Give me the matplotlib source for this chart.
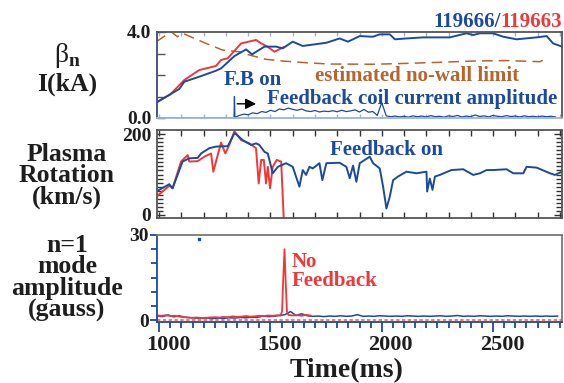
import numpy as np
import matplotlib
matplotlib.use("Agg")
import matplotlib.pyplot as plt
from matplotlib.transforms import ScaledTranslation

# ---------------- data ----------------
# normalized beta, shot 119666 (feedback)
beta_fb_t = [987, 1090, 1113, 1180, 1255, 1278, 1338, 1390, 1417, 1473, 1525, 1555, 1600,
             1645, 1751, 1811, 1848, 1901, 1960, 1991, 2036, 2059, 2111, 2186, 2306, 2381,
             2411, 2441, 2500, 2546, 2606, 2696, 2741, 2770, 2810]
beta_fb = [0.72, 1.35, 1.69, 1.92, 2.20, 2.31, 2.88, 3.19, 2.96, 3.32, 3.32, 3.24, 3.55,
           3.35, 3.50, 3.70, 3.55, 3.81, 3.78, 3.89, 3.89, 3.66, 3.70, 3.75, 3.75, 3.94,
           3.86, 3.94, 3.94, 3.78, 3.66, 3.75, 3.81, 3.47, 3.32]
# normalized beta, shot 119663 (no feedback)
beta_nofb_t = [987, 1050, 1113, 1180, 1255, 1278, 1308, 1368, 1435, 1458, 1486, 1518, 1548, 1560]
beta_nofb = [0.72, 1.10, 1.77, 2.23, 2.42, 2.70, 2.78, 3.47, 3.63, 3.47, 3.32, 3.08, 3.24, 3.30]
# estimated no-wall beta limit
nowall_t = [987, 1053, 1082, 1105, 1210, 1285, 1360, 1405, 1480, 1555, 1661, 1766, 1961,
            2111, 2261, 2411, 2561, 2711, 2741]
nowall = [3.55, 4.01, 3.78, 3.94, 3.47, 3.16, 3.08, 2.93, 2.73, 2.65, 2.57, 2.51, 2.50,
          2.54, 2.59, 2.65, 2.67, 2.62, 2.78]
# feedback coil current amplitude (plotted on the beta scale)
coil_pre_t = [987, 1336, 1338, 1340]
coil_pre = [0.0, 0.0, 1.0, 0.03]
coil_start, coil_step = 1360, 20
coil = [0.12, 0.18, 0.15, 0.24, 0.20, 0.30, 0.26, 0.36, 0.30, 0.42, 0.38, 0.46, 0.40,
        0.36, 0.42, 0.33, 0.30, 0.35, 0.28, 0.32, 0.30, 0.34, 0.29, 0.36, 0.30, 0.33,
        0.38, 0.28, 0.40, 0.27, 0.30, 0.12, 0.72, 0.10, 0.06, 0.09, 0.05, 0.08, 0.04,
        0.10, 0.06, 0.09, 0.05, 0.11, 0.06, 0.08, 0.04, 0.10, 0.07, 0.12, 0.05, 0.09,
        0.06, 0.14, 0.07, 0.10, 0.05, 0.12, 0.08, 0.06, 0.11, 0.07, 0.09, 0.05, 0.10,
        0.06, 0.08, 0.05, 0.09, 0.06, 0.08, 0.05]

# plasma rotation (km/s)
rot_fb_t = [987, 1045, 1060, 1105, 1135, 1173, 1188, 1225, 1255, 1308, 1338, 1345, 1375,
            1413, 1435, 1450, 1473, 1488, 1510, 1533, 1570, 1600, 1630, 1645, 1660, 1675,
            1690, 1720, 1733, 1751, 1811, 1841, 1856, 1871, 1886, 1901, 1946, 1961, 1991,
            2006, 2021, 2036, 2051, 2073, 2111, 2156, 2201, 2204, 2216, 2228, 2239, 2261,
            2313, 2366, 2411, 2441, 2471, 2501, 2561, 2591, 2636, 2651, 2696, 2756, 2778, 2810]
rot_fb = [58, 76, 66, 132, 140, 141, 152, 165, 169, 170, 202, 200, 185,
          173, 177, 173, 156, 152, 103, 119, 128, 119, 70, 111, 99, 119,
          115, 128, 86, 128, 129, 119, 91, 122, 82, 128, 144, 128, 115,
          70, 16, 45, 86, 95, 107, 103, 107, 58, 90, 62, 95, 99,
          111, 113, 99, 103, 111, 111, 113, 103, 103, 119, 117, 103, 99, 107]
rot_nofb_t = [987, 1045, 1060, 1098, 1128, 1135, 1173, 1203, 1233, 1243, 1278, 1297, 1315,
              1338, 1368, 1405, 1435, 1447, 1458, 1470, 1480, 1488, 1498, 1510, 1528, 1548, 1560]
rot_nofb = [45, 72, 66, 132, 148, 132, 133, 144, 152, 107, 179, 152, 173,
            207, 185, 177, 165, 78, 136, 136, 78, 119, 66, 119, 136, 132, -15]

# n=1 mode amplitude (gauss)
mode_fb_start, mode_fb_step = 990, 25
mode_fb = [1.4, 1.2, 1.8, 1.1, 1.5, 1.0, 0.8, 0.7, 0.6, 0.7, 0.5, 0.7, 0.6, 0.8, 0.7,
           0.9, 0.8, 1.0, 0.9, 1.4, 1.2, 1.3, 1.6, 1.9, 3.0, 1.6, 2.2, 1.5, 1.3, 1.4,
           1.2, 1.4, 1.3, 1.5, 1.3, 1.4, 1.9, 1.3, 1.4, 1.3, 1.5, 1.4, 1.3, 1.4, 1.3,
           1.5, 1.4, 1.3, 1.4, 1.3, 1.4, 1.5, 1.3, 1.4, 1.6, 1.3, 1.4, 1.3, 1.5, 1.4,
           1.3, 1.4, 1.3, 1.5, 1.4, 1.3, 1.4, 1.3, 1.4, 1.3, 1.4, 1.3, 1.4]
mode_nofb_t = [990, 1010, 1030, 1050, 1070, 1090, 1110, 1130, 1150, 1170, 1190, 1210, 1230,
               1250, 1270, 1290, 1310, 1330, 1350, 1370, 1390, 1410, 1430, 1450, 1470, 1490,
               1510, 1530, 1545, 1552, 1557, 1563, 1568, 1574, 1580, 1600, 1620, 1640, 1660, 1680]
mode_nofb = [1.6, 1.5, 1.7, 1.4, 1.5, 1.2, 1.0, 0.9, 0.8, 0.9, 0.7, 0.8, 0.9,
             1.0, 0.9, 1.1, 1.0, 1.3, 1.1, 1.2, 1.4, 1.2, 1.3, 1.5, 1.4, 1.6,
             1.5, 1.7, 1.6, 3.0, 14.0, 25.0, 14.0, 3.0, 1.8, 1.6, 1.7, 1.5, 1.8, 1.6]
stray_t, stray_v = [1180], [28.5]

xticks = [1000, 1500, 2000, 2500]

# ---------------- style ----------------
BLUE = "#1c4a9c"
RED = "#f03838"
BROWN = "#b5652e"
DARK = "#1e1e1e"
FONT = "Liberation Serif"
plt.rcParams["font.family"] = [FONT, "DejaVu Serif"]
plt.rcParams["font.weight"] = "bold"

W, H = 564, 383
fig = plt.figure(figsize=(W / 100, H / 100), dpi=100)


def box(top, bottom, left=157, right=562):
    return [left / W, 1 - bottom / H, (right - left) / W, (bottom - top) / H]


XLIM = (990, 2810)
ax1 = fig.add_axes(box(32, 118))
ax2 = fig.add_axes(box(130, 218))
ax3 = fig.add_axes(box(235, 322))

for ax in (ax1, ax2, ax3):
    ax.set_xlim(*XLIM)
    for s in ax.spines.values():
        s.set_linewidth(1.3)
        s.set_color("#555555")

# ---- panel 1: beta_n and coil current ----
ax1.plot(nowall_t, nowall, color=BROWN, lw=1.1, dashes=(7, 4))
ax1.plot(beta_nofb_t, beta_nofb, color=RED, lw=1.4)
ax1.plot(beta_fb_t, beta_fb, color=BLUE, lw=1.4)
coil_t = list(coil_pre_t) + list(coil_start + coil_step * np.arange(len(coil)))
ax1.plot(coil_t, list(coil_pre) + coil, color=BLUE, lw=0.9)
ax1.set_ylim(0, 4)
ax1.set_yticks([0, 4])
ax1.set_yticklabels(["0.0", "4.0"])
ax1.set_yticks([1, 2, 3], minor=True)
ax1.tick_params(axis="y", which="both", direction="in", length=6, width=1, colors="#555555",
                labelcolor=DARK, labelsize=14, pad=4)
ax1.set_xticks(np.arange(1000, 2801, 100))
ax1.tick_params(axis="x", which="both", direction="in", length=3, width=1, top=True,
                colors="#9db3de", labelbottom=False)
ax1.spines["bottom"].set_color("#9db3de")
ax1.spines["left"].set_color("#3a4a7a")
ax1.annotate("", xy=(1448, 0.66), xytext=(1338, 0.66),
             arrowprops=dict(arrowstyle="-|>", color="black", lw=1.0, mutation_scale=16))
ax1.text(1418, 1.77, "F.B on", color=BLUE, fontsize=15, ha="center", va="center")
ax1.text(1486, 0.88, "Feedback coil current amplitude", color=BLUE, fontsize=15,
         ha="left", va="center")
ax1.text(1698, 1.95, "estimated no-wall limit", color=BROWN, fontsize=15,
         ha="left", va="center")
ax1.text(1.0, 1.0, "119663", transform=ax1.transAxes, color=RED, fontsize=15,
         ha="right", va="bottom")
t_blue = ax1.text(0.0, 1.0, "119666/", transform=ax1.transAxes, color=BLUE, fontsize=15,
                  ha="right", va="bottom")

# ---- panel 2: rotation ----
ax2.plot(rot_nofb_t, rot_nofb, color=RED, lw=1.4)
ax2.plot(rot_fb_t, rot_fb, color=BLUE, lw=1.4)
ax2.set_ylim(-7.5, 210)
ax2.set_yticks([0, 200])
ax2.set_yticks(np.arange(10, 200, 10), minor=True)
ax2.tick_params(axis="y", which="major", direction="in", length=6, width=1, right=True,
                colors="#333333", labelcolor=DARK, labelsize=14, pad=4)
ax2.tick_params(axis="y", which="minor", direction="in", length=4, width=1, right=True,
                colors="#333333")
ax2.set_xticks(np.arange(1000, 2801, 100))
ax2.tick_params(axis="x", direction="in", length=4, width=1, top=True, colors="#333333",
                labelbottom=False)
ax2.text(1766, 160, "Feedback on", color=BLUE, fontsize=15, ha="left", va="center")

# ---- panel 3: n=1 mode amplitude ----
ax3.axhline(0, color=RED, lw=1.2, dashes=(2, 1.5), alpha=0.8)
mode_fb_t = mode_fb_start + mode_fb_step * np.arange(len(mode_fb))
ax3.plot(mode_fb_t, mode_fb, color=BLUE, lw=1.1)
ax3.plot(mode_nofb_t, mode_nofb, color=RED, lw=1.3)
ax3.plot(stray_t, stray_v, ls="none", marker="s", ms=1.5, color=BLUE)
ax3.set_ylim(-0.7, 30)
ax3.set_yticks([0, 30])
ax3.set_yticks([5, 10, 15, 20, 25], minor=True)
ax3.tick_params(axis="y", which="major", direction="out", length=5, width=1.3, colors=BLUE,
                labelcolor=DARK, labelsize=14, pad=1)
ax3.tick_params(axis="y", which="minor", direction="out", length=4, width=1.3, colors=BLUE)
ax3.set_xticks(xticks)
ax3.set_xticklabels([str(v) for v in xticks])
ax3.set_xticks(np.arange(1050, 2801, 50), minor=True)
ax3.tick_params(axis="x", which="major", direction="out", length=7, width=1.3, colors=BLUE,
                labelcolor=DARK, labelsize=16, pad=2)
ax3.tick_params(axis="x", which="minor", direction="out", length=4, width=1.3, colors=BLUE)
for lab in ax3.get_xticklabels():
    lab.set_transform(lab.get_transform() + ScaledTranslation(0.09, 0, fig.dpi_scale_trans))
ax3.spines["left"].set_color(BLUE)
ax3.spines["bottom"].set_color(BLUE)
ax3.spines["top"].set_color("#777777")
ax3.spines["right"].set_color("#777777")
ax3.text(1595, 17, "No\nFeedback", color=RED, fontsize=15, ha="left", va="center",
         linespacing=0.95)

# ---- figure-level labels ----
fig.text(347 / W, 1 - 371 / H, "Time(ms)", fontsize=20, ha="center", va="center", color=DARK)
fig.text(61 / W, 1 - 56 / H, "β", fontsize=20, fontweight="normal", ha="center",
         va="center", color=DARK)
fig.text(73.5 / W, 1 - 61 / H, "n", fontsize=14, ha="center", va="center", color=DARK)
fig.text(67 / W, 1 - 84 / H, "I(kA)", fontsize=18.5, ha="center", va="center", color=DARK)
fig.text(67 / W, 1 - 176 / H, "Plasma\nRotation\n(km/s)", fontsize=18.5, ha="center",
         va="center", color=DARK, linespacing=0.93)
fig.text(67 / W, 1 - 278 / H, "n=1\nmode\namplitude\n(gauss)", fontsize=18.5, ha="center",
         va="center", color=DARK, linespacing=0.93)

# place the shot-number prefix just left of the red number
fig.canvas.draw()
renderer = fig.canvas.get_renderer()
red_txt = [t for t in ax1.texts if t.get_text() == "119663"][0]
bb = red_txt.get_window_extent(renderer)
x_ax = ax1.transAxes.inverted().transform((bb.x0, bb.y0))[0]
t_blue.set_position((x_ax, 1.0))

fig.savefig("out.png", dpi=100)
